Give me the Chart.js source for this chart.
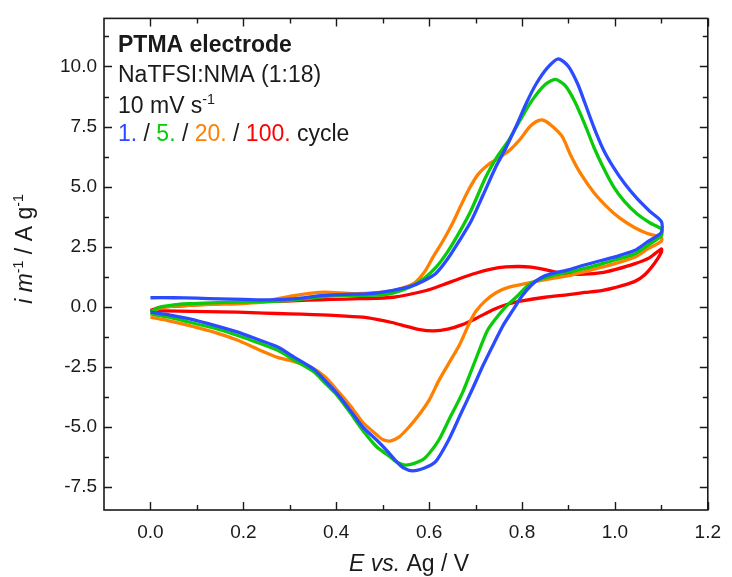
<!DOCTYPE html>
<html>
<head>
<meta charset="utf-8">
<script src="https://cdn.jsdelivr.net/npm/chart.js@4.4.1/dist/chart.umd.min.js"></script>
<style>
  body { margin: 0; background: #fff; }
  #cv { display: block; }
</style>
</head>
<body>
<canvas id="cv" width="732" height="577"></canvas>
<script>
// potential (V vs Ag) and current (A/g), anodic sweep then cathodic sweep
const cycle1E = [0.00, 0.05, 0.10, 0.15, 0.20, 0.26, 0.32, 0.37, 0.42, 0.47, 0.52, 0.56, 0.59, 0.615, 0.64, 0.665, 0.69, 0.715, 0.743, 0.765, 0.786, 0.81, 0.83, 0.855, 0.878, 0.90, 0.92, 0.935, 0.955, 0.975, 0.997, 1.02, 1.048, 1.075, 1.10,
  1.10, 1.07, 1.042, 1.0, 0.971, 0.93, 0.90, 0.86, 0.84, 0.82, 0.80, 0.78, 0.76, 0.74, 0.717, 0.692, 0.667, 0.642, 0.614, 0.59, 0.564, 0.545, 0.528, 0.51, 0.487, 0.457, 0.43, 0.402, 0.375, 0.352, 0.31, 0.274, 0.23, 0.188, 0.14, 0.082, 0.04, 0.0];
const cycle1I = [0.38, 0.38, 0.36, 0.33, 0.31, 0.29, 0.35, 0.48, 0.52, 0.55, 0.68, 0.85, 1.1, 1.4, 2.0, 2.75, 3.55, 4.6, 5.8, 6.6, 7.46, 8.5, 9.26, 9.95, 10.32, 10.0, 9.27, 8.5, 7.46, 6.55, 5.8, 5.15, 4.5, 3.98, 3.55,
  3.1, 2.7, 2.34, 2.08, 1.93, 1.72, 1.54, 1.36, 1.2, 0.9, 0.45, -0.15, -0.75, -1.5, -2.4, -3.47, -4.5, -5.54, -6.44, -6.7, -6.82, -6.7, -6.4, -6.0, -5.54, -4.99, -4.3, -3.61, -3.05, -2.6, -2.1, -1.67, -1.35, -1.05, -0.78, -0.49, -0.33, -0.22];

const cycle5E = [0.0, 0.02, 0.05, 0.082, 0.13, 0.188, 0.24, 0.295, 0.35, 0.40, 0.45, 0.509, 0.558, 0.59, 0.615, 0.64, 0.665, 0.69, 0.722, 0.745, 0.772, 0.80, 0.822, 0.85, 0.872, 0.893, 0.913, 0.935, 0.955, 0.975, 0.998, 1.02, 1.048, 1.075, 1.10,
  1.10, 1.07, 1.042, 1.0, 0.971, 0.935, 0.90, 0.86, 0.829, 0.81, 0.79, 0.765, 0.745, 0.725, 0.70, 0.671, 0.645, 0.621, 0.6, 0.585, 0.55, 0.53, 0.516, 0.487, 0.457, 0.43, 0.402, 0.375, 0.352, 0.31, 0.274, 0.23, 0.188, 0.14, 0.082, 0.04, 0.0];
const cycle5I = [-0.2, -0.02, 0.08, 0.13, 0.17, 0.2, 0.22, 0.26, 0.38, 0.47, 0.48, 0.52, 0.82, 1.2, 1.65, 2.3, 3.1, 4.0, 5.4, 6.2, 6.95, 7.9, 8.6, 9.25, 9.46, 9.2, 8.56, 7.6, 6.63, 5.8, 4.97, 4.4, 3.86, 3.5, 3.24,
  2.96, 2.55, 2.2, 1.95, 1.79, 1.6, 1.44, 1.27, 1.08, 0.85, 0.45, 0.0, -0.45, -1.0, -2.2, -3.61, -4.6, -5.54, -6.1, -6.37, -6.58, -6.45, -6.24, -5.82, -5.13, -4.4, -3.68, -3.15, -2.71, -2.22, -1.81, -1.48, -1.19, -0.9, -0.63, -0.43, -0.29];

const cycle20E = [0.0, 0.02, 0.05, 0.082, 0.13, 0.188, 0.24, 0.274, 0.32, 0.373, 0.437, 0.48, 0.523, 0.566, 0.59, 0.608, 0.63, 0.651, 0.668, 0.686, 0.705, 0.729, 0.75, 0.772, 0.795, 0.815, 0.83, 0.843, 0.86, 0.886, 0.905, 0.927, 0.955, 0.984, 1.01, 1.041, 1.07, 1.10,
  1.10, 1.07, 1.042, 1.0, 0.971, 0.935, 0.90, 0.85, 0.81, 0.772, 0.745, 0.722, 0.70, 0.686, 0.665, 0.642, 0.62, 0.60, 0.578, 0.557, 0.535, 0.516, 0.50, 0.487, 0.457, 0.43, 0.402, 0.375, 0.345, 0.31, 0.274, 0.23, 0.188, 0.14, 0.082, 0.04, 0.0];
const cycle20I = [-0.22, -0.05, 0.03, 0.06, 0.1, 0.13, 0.2, 0.34, 0.5, 0.61, 0.55, 0.58, 0.68, 0.96, 1.45, 2.06, 2.75, 3.5, 4.2, 4.9, 5.5, 5.94, 6.2, 6.49, 6.95, 7.46, 7.7, 7.78, 7.6, 7.1, 6.3, 5.52, 4.75, 4.14, 3.7, 3.31, 3.05, 2.89,
  2.73, 2.4, 2.06, 1.8, 1.65, 1.47, 1.3, 1.13, 0.98, 0.82, 0.6, 0.27, -0.2, -0.7, -1.6, -2.36, -3.1, -3.88, -4.5, -4.99, -5.42, -5.58, -5.52, -5.32, -4.8, -4.1, -3.47, -2.9, -2.5, -2.28, -2.1, -1.75, -1.39, -1.07, -0.77, -0.58, -0.43];

const cycle100E = [0.0, 0.02, 0.05, 0.082, 0.13, 0.188, 0.24, 0.29, 0.34, 0.39, 0.45, 0.523, 0.594, 0.63, 0.665, 0.70, 0.736, 0.765, 0.793, 0.82, 0.85, 0.875, 0.9, 0.935, 0.971, 1.0, 1.042, 1.075, 1.10,
  1.10, 1.085, 1.065, 1.042, 1.0, 0.971, 0.935, 0.90, 0.85, 0.80, 0.772, 0.74, 0.701, 0.67, 0.64, 0.61, 0.58, 0.55, 0.52, 0.487, 0.457, 0.402, 0.35, 0.30, 0.245, 0.188, 0.12, 0.06, 0.0];
const cycle100I = [-0.15, -0.02, 0.03, 0.06, 0.12, 0.17, 0.21, 0.24, 0.28, 0.31, 0.34, 0.4, 0.68, 0.92, 1.17, 1.4, 1.58, 1.66, 1.68, 1.65, 1.55, 1.43, 1.37, 1.36, 1.42, 1.55, 1.79, 2.05, 2.41,
  2.27, 1.8, 1.35, 1.05, 0.8, 0.68, 0.6, 0.51, 0.4, 0.25, 0.13, -0.1, -0.48, -0.75, -0.93, -1.0, -0.95, -0.8, -0.65, -0.52, -0.43, -0.36, -0.32, -0.29, -0.26, -0.22, -0.2, -0.18, -0.15];

const cycleLabels = ['1.', '5.', '20.', '100.'];
const cycleColors = ['#2B4BFF', '#0ACB0A', '#FF8000', '#FF0000'];
const xTicks = [0.0, 0.2, 0.4, 0.6, 0.8, 1.0, 1.2];
const yTicks = [-7.5, -5.0, -2.5, 0.0, 2.5, 5.0, 7.5, 10.0];

const FONT = '"Liberation Sans", Arial, sans-serif';
const INK = '#1a1a1a';

function toPoints(es, is) { // junta E e i em pontos {x,y}
  return es.map(function (e, k) { return { x: e, y: is[k] }; });
}

const allE = [cycle1E, cycle5E, cycle20E, cycle100E];
const allI = [cycle1I, cycle5I, cycle20I, cycle100I];

const datasets = allE.map(function (es, k) {
  return {
    label: cycleLabels[k] + ' cycle',
    data: toPoints(es, allI[k]),
    showLine: true,
    borderColor: cycleColors[k],
    borderWidth: 3.3,
    pointRadius: 0,
    tension: 0.25,
    fill: false
  };
});

// texto com partes em itálico / negrito / sobrescrito
function segFont(s, size) {
  const sz = s.sup ? size * 0.62 : size;
  return (s.italic ? 'italic ' : '') + (s.bold ? 'bold ' : '') + sz + 'px ' + FONT;
}
function richWidth(ctx, segs, size) {
  let w = 0;
  segs.forEach(function (s) { ctx.font = segFont(s, size); w += ctx.measureText(s.t).width; });
  return w;
}
function drawRich(ctx, x, y, segs, size) {
  let cx = x;
  segs.forEach(function (s) {
    ctx.font = segFont(s, size);
    ctx.fillStyle = s.color || INK;
    ctx.fillText(s.t, cx, y + (s.sup ? -size * 0.38 : 0));
    cx += ctx.measureText(s.t).width;
  });
}

// moldura com ticks para dentro nos quatro lados + textos
const framePlugin = {
  id: 'frame',
  afterDraw: function (chart) {
    const ctx = chart.ctx;
    const a = chart.chartArea;
    const xs = chart.scales.x, ys = chart.scales.y;
    ctx.save();
    ctx.strokeStyle = INK;
    ctx.lineWidth = 1.6;
    ctx.strokeRect(a.left, a.top, a.right - a.left, a.bottom - a.top);
    ctx.lineWidth = 1.4;
    ctx.beginPath();
    for (let v = 0; v <= 1.2001; v += 0.1) {
      const px = Math.round(xs.getPixelForValue(v)) + 0.5;
      const len = (Math.round(v * 10) % 2 === 0) ? 8 : 5;
      ctx.moveTo(px, a.bottom); ctx.lineTo(px, a.bottom - len);
      ctx.moveTo(px, a.top); ctx.lineTo(px, a.top + len);
    }
    for (let v = -7.5; v <= 11.3; v += 1.25) {
      const py = Math.round(ys.getPixelForValue(v)) + 0.5;
      const len = (Math.round(v / 1.25) % 2 === 0) ? 8 : 5;
      ctx.moveTo(a.left, py); ctx.lineTo(a.left + len, py);
      ctx.moveTo(a.right, py); ctx.lineTo(a.right - len, py);
    }
    ctx.stroke();

    ctx.textBaseline = 'alphabetic';
    ctx.textAlign = 'left';
    const fs = 23;
    drawRich(ctx, 118, 52, [{ t: 'PTMA electrode', bold: true }], fs);
    drawRich(ctx, 118, 82, [{ t: 'NaTFSI:NMA (1:18)' }], fs);
    drawRich(ctx, 118, 113, [{ t: '10 mV s' }, { t: '-1', sup: true }], fs);
    const legendSegs = [];
    cycleLabels.forEach(function (lab, k) {
      legendSegs.push({ t: lab, color: cycleColors[k] });
      legendSegs.push({ t: k < cycleLabels.length - 1 ? ' / ' : ' cycle' });
    });
    drawRich(ctx, 118, 141, legendSegs, fs);

    // titulo eixo x
    drawRich(ctx, 349, 571, [{ t: 'E', italic: true }, { t: ' ' }, { t: 'vs.', italic: true }, { t: ' Ag / V' }], 23);

    // titulo eixo y (rodado)
    const ySegs = [{ t: 'i', italic: true }, { t: ' ' }, { t: 'm', italic: true }, { t: '-1', sup: true }, { t: ' / A g' }, { t: '-1', sup: true }];
    const w = richWidth(ctx, ySegs, 23);
    ctx.translate(32, 249);
    ctx.rotate(-Math.PI / 2);
    drawRich(ctx, -w / 2, 0, ySegs, 23);
    ctx.restore();
  }
};

new Chart(document.getElementById('cv'), {
  type: 'scatter',
  data: { datasets: datasets },
  options: {
    responsive: false,
    animation: false,
    layout: { padding: { top: 17, right: 17, left: 0, bottom: 0 } },
    plugins: { legend: { display: false }, tooltip: { enabled: false } },
    scales: {
      x: {
        type: 'linear', min: -0.1, max: 1.2,
        grid: { display: false, drawTicks: false }, border: { display: false },
        afterBuildTicks: function (s) { s.ticks = xTicks.map(function (v) { return { value: v }; }); },
        afterFit: function (s) { s.height = 67; },
        ticks: {
          padding: 11, color: INK, font: { family: FONT, size: 19 },
          maxRotation: 0, autoSkip: false,
          callback: function (v) { return v.toFixed(1); }
        }
      },
      y: {
        type: 'linear', min: -8.45, max: 12.0,
        grid: { display: false, drawTicks: false }, border: { display: false },
        afterBuildTicks: function (s) { s.ticks = yTicks.map(function (v) { return { value: v }; }); },
        afterFit: function (s) { s.width = 104; },
        ticks: {
          padding: 7, color: INK, font: { family: FONT, size: 19 },
          autoSkip: false,
          callback: function (v) { return v.toFixed(1); }
        }
      }
    }
  },
  plugins: [framePlugin]
});
</script>
</body>
</html>
